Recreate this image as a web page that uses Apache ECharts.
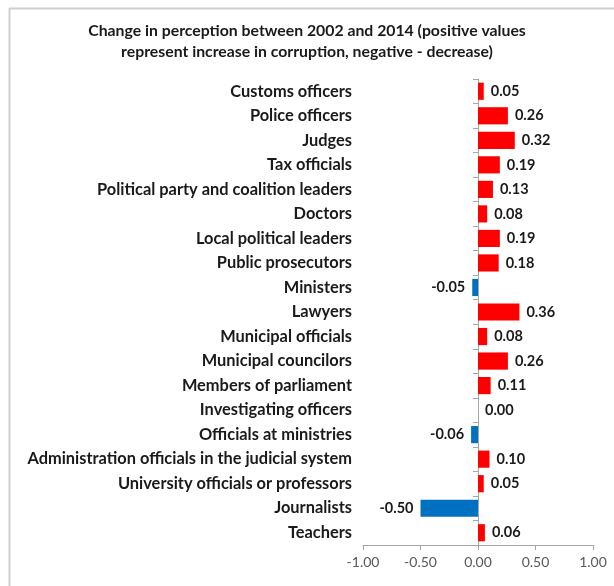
<!DOCTYPE html>
<html>
<head>
<meta charset="utf-8">
<script src="https://cdn.jsdelivr.net/npm/echarts@6/dist/echarts.min.js"></script>
<style>
  html, body { margin: 0; padding: 0; background: #fff; }
  #chart { width: 614px; height: 586px; }
</style>
</head>
<body>
<div id="chart"></div>
<script>
const categories = [
  'Customs officers', 'Police officers', 'Judges', 'Tax officials',
  'Political party and coalition leaders', 'Doctors', 'Local political leaders',
  'Public prosecutors', 'Ministers', 'Lawyers', 'Municipal officials',
  'Municipal councilors', 'Members of parliament', 'Investigating officers',
  'Officials at ministries', 'Administration officials in the judicial system',
  'University officials or professors', 'Journalists', 'Teachers'
];
const values = [
  0.05, 0.26, 0.32, 0.19, 0.13, 0.08, 0.19, 0.18, -0.05, 0.36,
  0.08, 0.26, 0.11, 0.00, -0.06, 0.10, 0.05, -0.50, 0.06
];
const xTicks = [-1, -0.5, 0, 0.5, 1];

const font = 'Lato, "Open Sans", sans-serif';

const chart = echarts.init(document.getElementById('chart'));

const option = {
  animation: false,
  title: {
    text: 'Change in perception between 2002 and 2014 (positive values\nrepresent increase in corruption, negative - decrease)',
    left: 'center',
    top: 15,
    textStyle: { fontFamily: font, fontSize: 15.8, fontWeight: 'bold', color: '#1a1a1a', lineHeight: 21 }
  },
  graphic: [
    { type: 'line', shape: { x1: 9, y1: 8.5, x2: 614, y2: 8.5 }, style: { stroke: '#cfcfcf', lineWidth: 2 } },
    { type: 'line', shape: { x1: 9.5, y1: 8, x2: 9.5, y2: 586 }, style: { stroke: '#cfcfcf', lineWidth: 2 } }
  ],
  grid: { left: 363, right: 21, top: 79, bottom: 41, containLabel: false },
  xAxis: {
    type: 'value',
    min: -1, max: 1, interval: 0.5,
    splitLine: { show: false },
    axisLine: { show: true, lineStyle: { color: '#a6a6a6' } },
    axisTick: { show: true, length: 5, lineStyle: { color: '#a6a6a6' } },
    axisLabel: {
      fontFamily: font, fontSize: 14, color: '#595959', margin: 10,
      formatter: v => xTicks.includes(v) ? v.toFixed(2) : ''
    }
  },
  yAxis: {
    type: 'category',
    inverse: true,
    data: categories,
    axisLine: { show: true, onZero: true, lineStyle: { color: '#a6a6a6' } },
    axisTick: { show: true, length: 5, lineStyle: { color: '#a6a6a6' } },
    axisLabel: { fontFamily: font, fontSize: 16.4, fontWeight: 'bold', color: '#1a1a1a', margin: 11 }
  },
  series: [{
    type: 'bar',
    barCategoryGap: '30%',
    data: values.map(v => ({
      value: v,
      itemStyle: { color: v < 0 ? '#0070c0' : '#ff0000' },
      label: { position: v < 0 ? 'left' : 'right' }
    })),
    label: {
      show: true,
      distance: 7,
      fontFamily: font, fontSize: 14.5, fontWeight: 'bold', color: '#1a1a1a',
      formatter: p => p.value.toFixed(2)
    }
  }]
};

chart.setOption(option);
</script>
</body>
</html>
